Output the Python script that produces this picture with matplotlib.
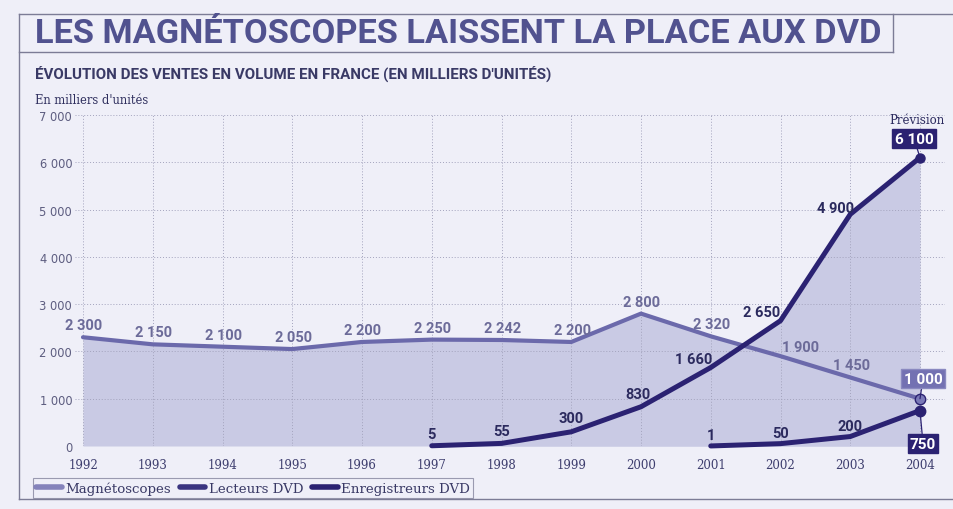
import matplotlib
matplotlib.use("Agg")
import matplotlib.pyplot as plt
from matplotlib.lines import Line2D
import numpy as np

# ---------------- data ----------------
years_magneto = [1992, 1993, 1994, 1995, 1996, 1997, 1998, 1999, 2000, 2001, 2002, 2003, 2004]
magneto = [2300, 2150, 2100, 2050, 2200, 2250, 2242, 2200, 2800, 2320, 1900, 1450, 1000]

years_lecteurs = [1997, 1998, 1999, 2000, 2001, 2002, 2003, 2004]
lecteurs = [5, 55, 300, 830, 1660, 2650, 4900, 6100]

years_enreg = [2001, 2002, 2003, 2004]
enreg = [1, 50, 200, 750]

year_ticks = list(range(1992, 2005))
y_ticks = [0, 1000, 2000, 3000, 4000, 5000, 6000, 7000]
y_ticklabels = ["0", "1 000", "2 000", "3 000", "4 000", "5 000", "6 000", "7 000"]

title = "LES MAGNÉTOSCOPES LAISSENT LA PLACE AUX DVD"
subtitle = "ÉVOLUTION DES VENTES EN VOLUME EN FRANCE (EN MILLIERS D'UNITÉS)"
unit_label = "En milliers d'unités"
series_names = ["Magnétoscopes", "Lecteurs DVD", "Enregistreurs DVD"]
forecast_label = "Prévision"

# ---------------- style ----------------
BG = "#efeff8"
C_MAG = "#6b69ab"
C_MAG_LEG = "#8583bb"
C_DVD = "#2b2272"
C_FILL = "#c9cae4"
C_GRID = "#a3a3bd"
C_MAG_TXT = "#6c6b99"
C_DVD_TXT = "#2b2a5e"
C_FRAME = "#7c7c96"

W, H = 954, 510
fig = plt.figure(figsize=(W / 100, H / 100), dpi=100, facecolor=BG)

def fx(x):
    return x / W

def fy(y):
    return 1 - y / H

ax_l, ax_r, ax_t, ax_b = 75, 945, 116, 447
ax = fig.add_axes([fx(ax_l), fy(ax_b), (ax_r - ax_l) / W, (ax_b - ax_t) / H])
ax.set_facecolor(BG)
ppy = (920 - 83) / 12.0
ax.set_xlim(1992 - (83 - ax_l) / ppy, 2004 + (ax_r - 920) / ppy)
ax.set_ylim(0, 7000)
for s in ax.spines.values():
    s.set_visible(False)

ax.set_xticks(year_ticks)
ax.set_xticklabels([str(y) for y in year_ticks], family="DejaVu Serif",
                   fontsize=8.5, color="#3d3d6e")
ax.set_yticks(y_ticks)
ax.set_yticklabels(y_ticklabels, family="DejaVu Sans", fontsize=8.3, color="#5d5d80")
ax.tick_params(axis="x", length=0, pad=9)
ax.tick_params(axis="y", length=0, pad=2)
ax.set_axisbelow(True)
ax.grid(True, color=C_GRID, linestyle=(0, (1, 2)), linewidth=0.7)

# shaded areas (upper envelope)
ax.fill_between(years_magneto, magneto, 0, color=C_FILL, zorder=0.4, linewidth=0)
ax.fill_between(years_lecteurs, lecteurs, 0, color=C_FILL, zorder=0.4, linewidth=0)

# lines
l_mag, = ax.plot(years_magneto, magneto, color=C_MAG, lw=3.0, solid_capstyle="round",
                 solid_joinstyle="round", zorder=3, clip_on=False)
l_dvd, = ax.plot(years_lecteurs, lecteurs, color=C_DVD, lw=3.6, solid_capstyle="round",
                 solid_joinstyle="round", zorder=4, clip_on=False)
l_enr, = ax.plot(years_enreg, enreg, color=C_DVD, lw=3.6, solid_capstyle="round",
                 solid_joinstyle="round", zorder=4, clip_on=False)

# end markers
ax.plot(years_magneto[-1], magneto[-1], "o", ms=7.5, mfc="#7a79b8", mec=C_DVD, mew=1.0,
        zorder=6, clip_on=False)
ax.plot(years_enreg[-1], enreg[-1], "o", ms=7.5, mfc=C_DVD, mec=C_DVD, zorder=6, clip_on=False)
ax.plot(years_lecteurs[-1], lecteurs[-1], "o", ms=6.5, mfc=C_DVD, mec=C_DVD, zorder=6, clip_on=False)

def fmt(v):
    return f"{v:,}".replace(",", " ")

LBL = dict(family="Roboto", fontweight="bold", fontsize=10.5, ha="center", va="center",
           textcoords="offset pixels", zorder=7, annotation_clip=False)

mag_offsets = {2002: (20, 9)}
for x, v in zip(years_magneto[:-1], magneto[:-1]):
    dx, dy = mag_offsets.get(x, (1, 12))
    ax.annotate(fmt(v), (x, v), xytext=(dx, dy), color=C_MAG_TXT, **LBL)

dvd_offsets = {1999: (0, 14), 2000: (-3, 13), 2001: (-17, 9), 2002: (-19, 9), 2003: (-15, 6)}
for x, v in zip(years_lecteurs[:-1], lecteurs[:-1]):
    dx, dy = dvd_offsets.get(x, (0, 12))
    ax.annotate(fmt(v), (x, v), xytext=(dx, dy), color=C_DVD_TXT, **LBL)

for x, v in zip(years_enreg[:-1], enreg[:-1]):
    ax.annotate(fmt(v), (x, v), xytext=(0, 11), color=C_DVD_TXT, **LBL)

BOX = dict(family="Roboto", fontweight="bold", fontsize=11, ha="center", va="center",
           color="white", textcoords="offset pixels", zorder=8, annotation_clip=False)
ax.annotate(fmt(lecteurs[-1]), (years_lecteurs[-1], lecteurs[-1]), xytext=(-6, 19),
            bbox=dict(boxstyle="square,pad=0.15", fc=C_DVD, ec=C_DVD),
            arrowprops=dict(arrowstyle="-", color=C_DVD, lw=0.9, shrinkA=0, shrinkB=0), **BOX)
ax.annotate(forecast_label, (years_lecteurs[-1], lecteurs[-1]), xytext=(-3, 38),
            textcoords="offset pixels", ha="center", va="center", family="DejaVu Serif",
            fontsize=8.5, color=C_DVD_TXT, annotation_clip=False)
ax.annotate(fmt(magneto[-1]), (years_magneto[-1], magneto[-1]), xytext=(3, 20),
            bbox=dict(boxstyle="square,pad=0.15", fc="#7371b2", ec="#8a89c0"),
            arrowprops=dict(arrowstyle="-", color=C_DVD, lw=0.9, shrinkA=0, shrinkB=0), **BOX)
ax.annotate(fmt(enreg[-1]), (years_enreg[-1], enreg[-1]), xytext=(3, -33),
            bbox=dict(boxstyle="square,pad=0.15", fc=C_DVD, ec=C_DVD),
            arrowprops=dict(arrowstyle="-", color=C_DVD, lw=0.9, shrinkA=0, shrinkB=0), **BOX)

# legend
handles = [Line2D([], [], color=C_MAG_LEG, lw=4, solid_capstyle="round"),
           Line2D([], [], color="#3a3480", lw=4, solid_capstyle="round"),
           Line2D([], [], color=C_DVD, lw=4, solid_capstyle="round")]
leg = ax.legend(handles, series_names, loc="lower left",
                bbox_to_anchor=(fx(33), fy(499)), bbox_transform=fig.transFigure,
                ncol=3, frameon=True, fancybox=False, edgecolor="#9a9ab0",
                facecolor=BG, framealpha=1, borderpad=0.25, handlelength=1.9,
                handletextpad=0.25, columnspacing=0.7, borderaxespad=0,
                prop=dict(family="DejaVu Serif", size=9.6))
for t in leg.get_texts():
    t.set_color("#3a3a66")
leg.get_frame().set_linewidth(0.8)

# frame lines of the page box
def fline(x0, y0, x1, y1, lw=1.0, c=C_FRAME):
    fig.add_artist(Line2D([fx(x0), fx(x1)], [fy(y0), fy(y1)], color=c, lw=lw,
                          transform=fig.transFigure))

fline(19.5, 15, 954, 15)
fline(19.5, 15, 19.5, 500)
fline(19.5, 500, 954, 500)
fline(893, 15, 893, 53)
fline(19.5, 53, 893, 53)

# titles
t_title = fig.text(fx(35), fy(43), title, family="Roboto", fontweight="bold",
                   fontsize=20, color="#51528f", ha="left", va="baseline")
t_sub = fig.text(fx(35), fy(79), subtitle, family="Roboto", fontweight="bold",
                 fontsize=9, color="#3a3a66", ha="left", va="baseline")
fig.text(fx(35), fy(100), unit_label, family="DejaVu Serif", fontsize=8.3,
         color="#2f2f5e", ha="left", va="center")

fig.canvas.draw()
r = fig.canvas.get_renderer()
for t, target in [(t_title, 845), (t_sub, 513)]:
    wpx = t.get_window_extent(r).width
    t.set_fontsize(t.get_fontsize() * target / wpx)

fig.savefig("out.png", dpi=100, facecolor=BG)
